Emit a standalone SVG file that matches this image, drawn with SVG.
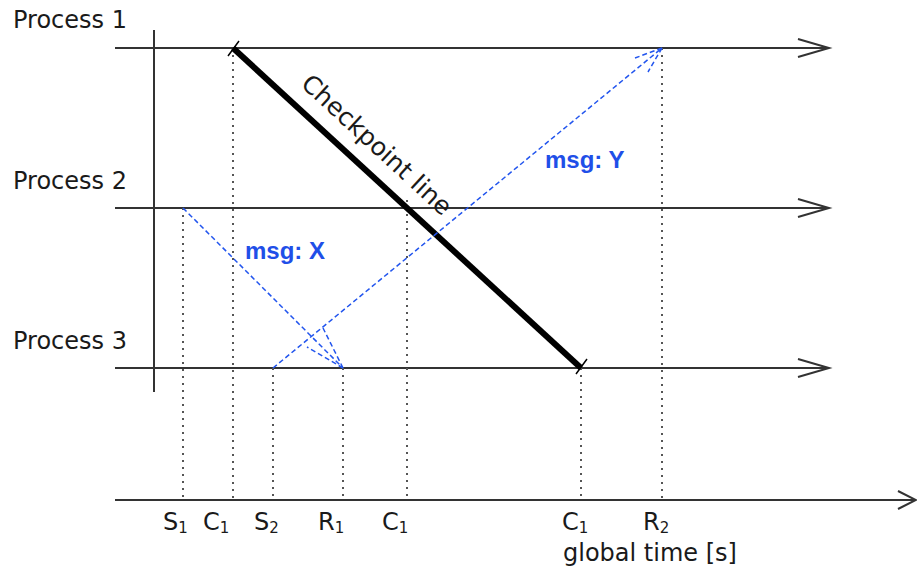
<svg xmlns="http://www.w3.org/2000/svg" width="917" height="573" viewBox="0 0 917 573">
<style>
text{font-family:"DejaVu Sans","Liberation Sans",sans-serif;fill:#1a1a1a}
.lbl{font-size:24px}
.tick{font-size:24px}
.sub{font-size:15px}
.axis{stroke:#333;stroke-width:2;fill:none}
.dot{stroke:#555;stroke-width:2;stroke-dasharray:2,5;fill:none}
.msg{stroke:#2255ee;stroke-width:1.5;stroke-dasharray:5,3;fill:none}
.mlbl{font-family:"Liberation Sans",Arial,sans-serif;font-size:24px;font-weight:bold;fill:#1f4fe8}
</style>
<g id="process1">
<text class="lbl" x="13" y="28">Process 1</text>
<path class="axis" d="M115,48H829M798,39L829,48L798,57"/>
</g>
<g id="process2">
<text class="lbl" x="13" y="189">Process 2</text>
<path class="axis" d="M115,208H829M798,199L829,208L798,217"/>
</g>
<g id="process3">
<text class="lbl" x="13" y="349">Process 3</text>
<path class="axis" d="M115,368H829M798,359L829,368L798,377"/>
</g>
<g id="vaxis"><path class="axis" d="M154,30V392"/></g>
<g id="timeaxis">
<path class="axis" d="M115,500H915M898,491L916,500L898,509"/>
<text class="tick" x="563" y="561">global time [s]</text>
</g>
<g id="marks">
<path class="dot" d="M183,208V500M233,48V500M273,368V500M343,368V500M407,200V500M581,368V500M662,48V500"/>
<text class="tick" x="163" y="530">S<tspan class="sub" dy="3">1</tspan></text>
<text class="tick" x="203" y="530">C<tspan class="sub" dy="3">1</tspan></text>
<text class="tick" x="254" y="530">S<tspan class="sub" dy="3">2</tspan></text>
<text class="tick" x="318" y="530">R<tspan class="sub" dy="3">1</tspan></text>
<text class="tick" x="382" y="530">C<tspan class="sub" dy="3">1</tspan></text>
<text class="tick" x="562" y="530">C<tspan class="sub" dy="3">1</tspan></text>
<text class="tick" x="643" y="530">R<tspan class="sub" dy="3">2</tspan></text>
</g>
<g id="checkpoint">
<path d="M233,48L581,368" stroke="#000" stroke-width="6" fill="none"/>
<path d="M228,56L239,41M576,374L587,359" stroke="#000" stroke-width="1.5" fill="none"/>
<text x="0" y="0" font-size="25" text-anchor="middle" transform="translate(371,151) rotate(42.6)">Checkpoint line</text>
</g>
<g id="connectors">
<path class="msg" d="M183,208L343,368"/>
<path class="msg" d="M343,368L323,328M343,368L307,347"/>
<path class="msg" d="M273,368L662,48"/>
<path class="msg" d="M662,48L635,58M662,48L648,72"/>
<text class="mlbl" x="245" y="259">msg: X</text>
<text class="mlbl" x="545" y="168">msg: Y</text>
</g>
</svg>
